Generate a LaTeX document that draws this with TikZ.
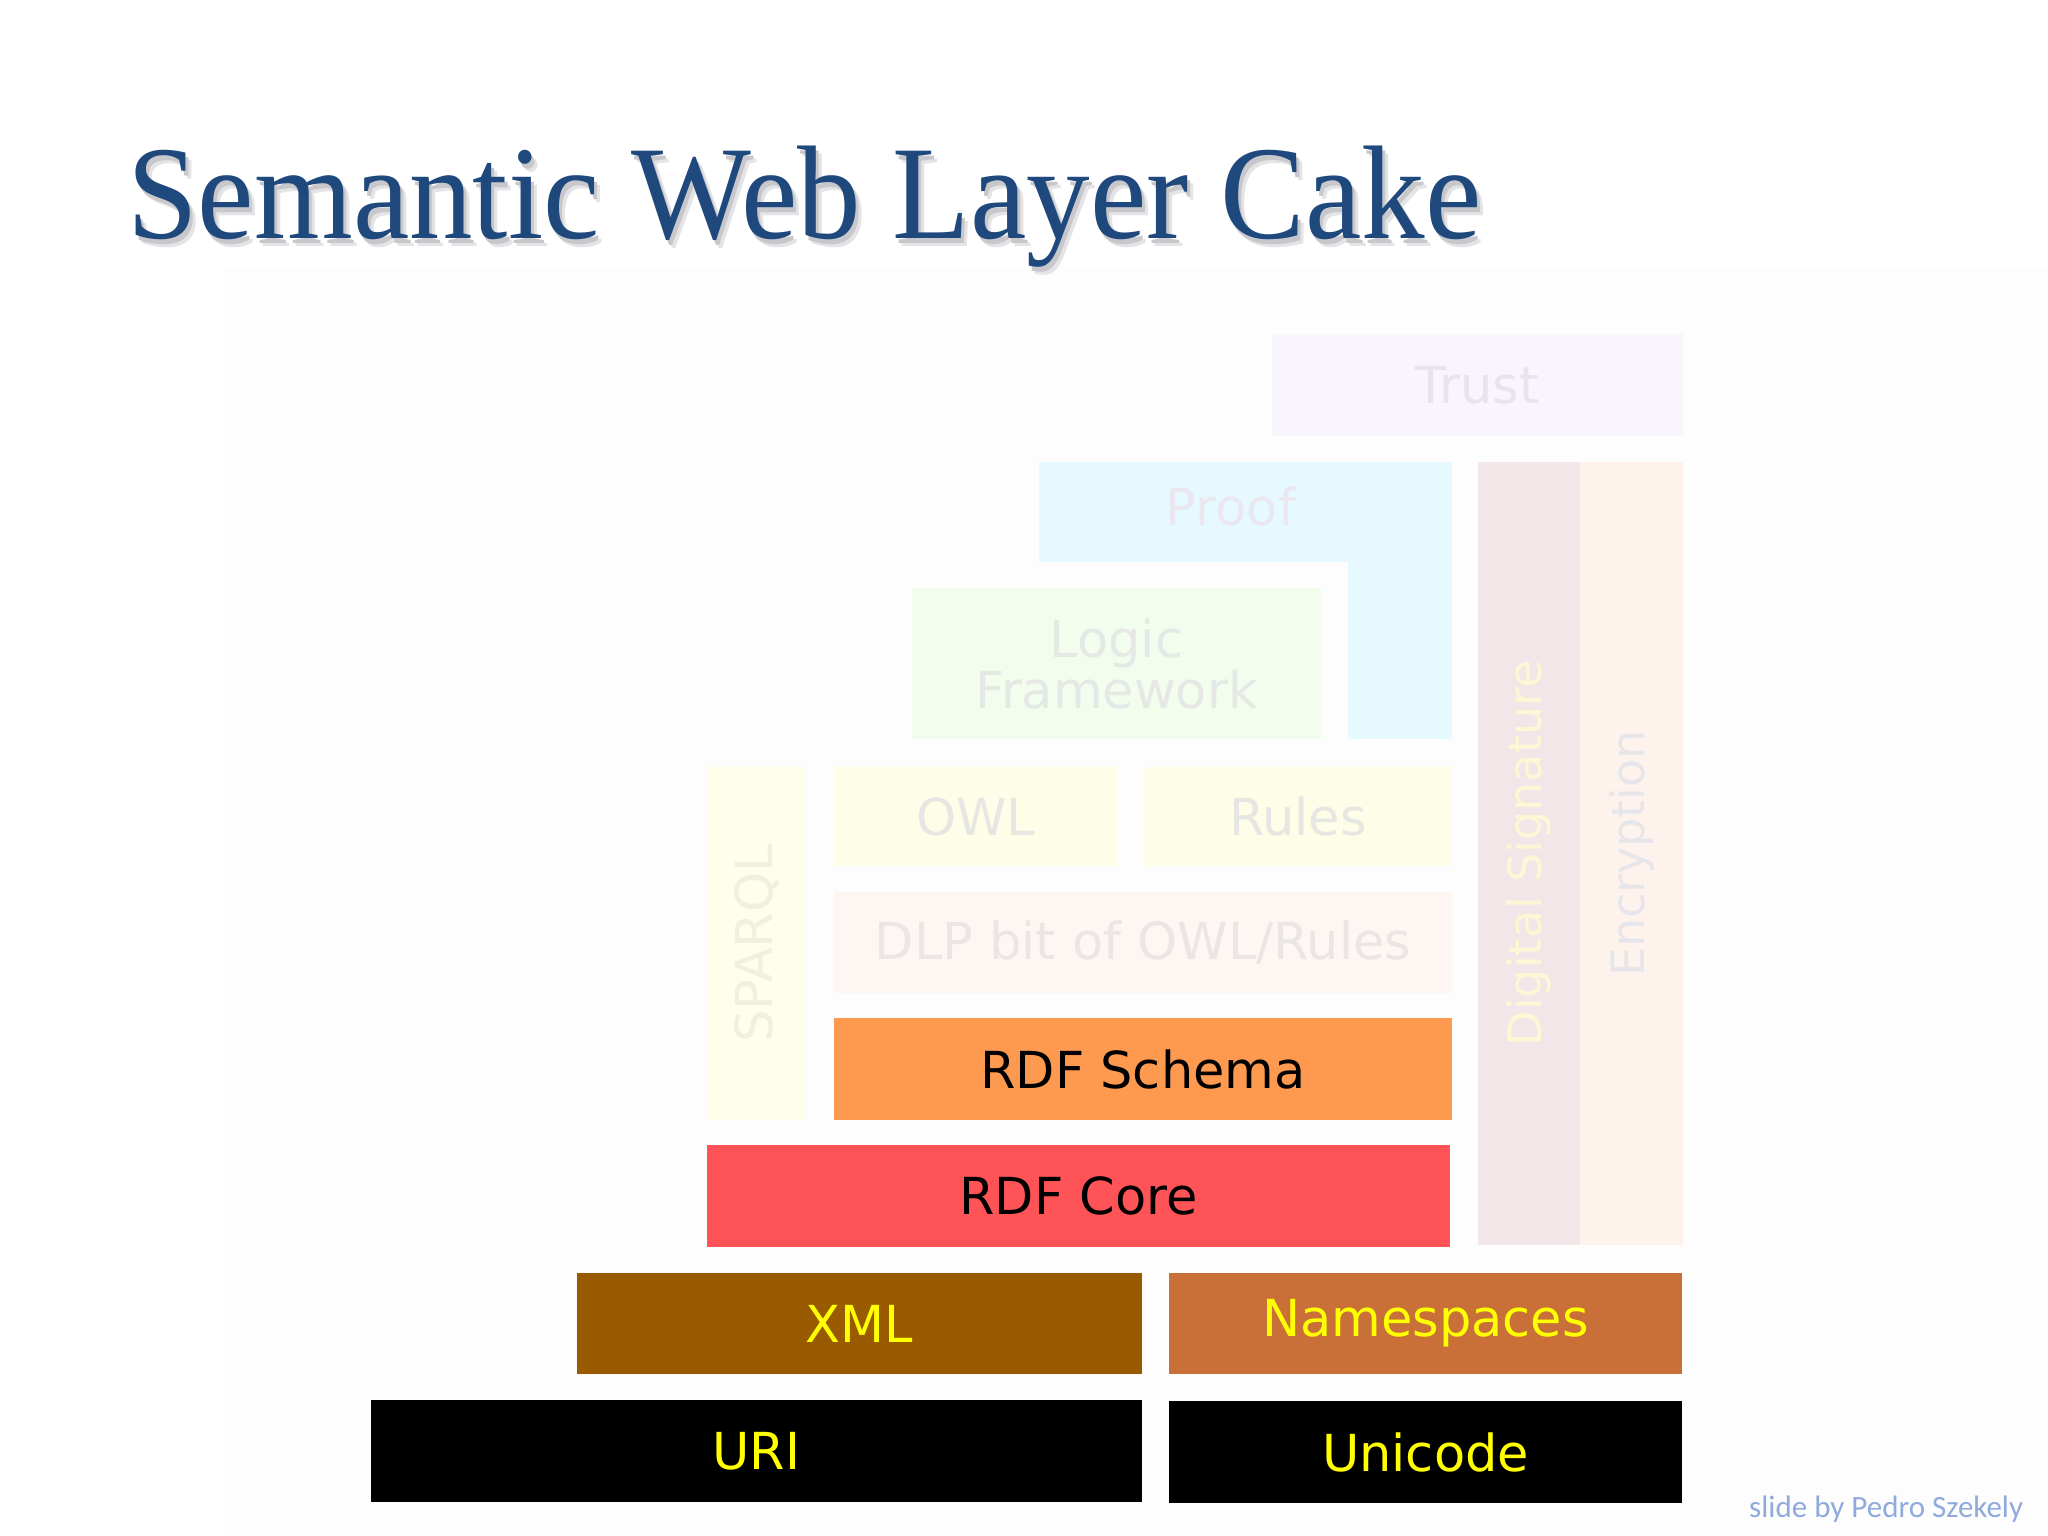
\documentclass[tikz,border=0pt]{standalone}
\usepackage{fontspec}
\newfontfamily\boxfont{DejaVu Sans}
\newfontfamily\titlefont{Liberation Serif}
\newfontfamily\creditfont{Carlito}
\definecolor{titleblue}{RGB}{31,73,125}
\definecolor{creditblue}{RGB}{143,170,220}
\definecolor{panelbg}{RGB}{253,253,254}
\definecolor{shadowA}{RGB}{200,200,204}
\definecolor{shadowB}{RGB}{228,228,230}
\definecolor{trustfill}{RGB}{248,245,253}
\definecolor{trusttext}{RGB}{231,228,236}
\definecolor{prooffill}{RGB}{230,249,254}
\definecolor{prooftext}{RGB}{234,232,238}
\definecolor{logicfill}{RGB}{242,253,238}
\definecolor{logictext}{RGB}{230,232,230}
\definecolor{sparqlfill}{RGB}{254,254,234}
\definecolor{sparqltext}{RGB}{242,240,220}
\definecolor{owlfill}{RGB}{254,254,232}
\definecolor{owltext}{RGB}{230,230,227}
\definecolor{dlpfill}{RGB}{254,246,242}
\definecolor{dlptext}{RGB}{234,230,228}
\definecolor{rdfsfill}{RGB}{254,154,80}
\definecolor{rdfcfill}{RGB}{255,84,87}
\definecolor{sigfill}{RGB}{241,231,232}
\definecolor{sigtext}{RGB}{255,246,214}
\definecolor{encfill}{RGB}{254,243,236}
\definecolor{enctext}{RGB}{230,230,234}
\definecolor{xmlfill}{RGB}{153,90,0}
\definecolor{nsfill}{RGB}{200,112,56}
\definecolor{yel}{RGB}{255,255,0}
\newcommand{\titletext}{\scalebox{1}[1.05]{Semantic Web Layer Cake}}
\tikzset{
  layer/.style={inner sep=0pt, outer sep=0pt, draw=none, font=\boxfont\fontsize{51}{51}\selectfont, align=center},
  sidelayer/.style={layer, font=\boxfont\fontsize{46}{46}\selectfont},
  labeltext/.style={inner sep=0pt, outer sep=0pt, font=\boxfont\fontsize{51}{51}\selectfont},
}
\begin{document}
\begin{tikzpicture}[x=1pt,y=-1pt]
\useasboundingbox (0,0) rectangle (2048,1536);
\fill[white] (0,0) rectangle (2048,1536);
\fill[panelbg] (223,267) rectangle (2048,1536);

% title with soft shadow (single text node)
\node[anchor=base west, inner sep=0pt] (title) at (127,238) {\titlefont\fontsize{127}{127}\selectfont
  \makebox[0pt][l]{\hspace{6pt}\raisebox{-8pt}{\color{shadowB}\titletext}}%
  \makebox[0pt][l]{\hspace{3pt}\raisebox{-5pt}{\color{shadowA}\titletext}}%
  {\color{titleblue}\titletext}};

% upper faded layers
\node[layer, fill=trustfill, text=trusttext, minimum width=411, minimum height=102] (trust) at (1477.5,385) {Trust};
\fill[prooffill] (1039,462) -- (1452,462) -- (1452,739) -- (1348,739) -- (1348,562) -- (1039,562) -- cycle;
\node[labeltext, anchor=base, text=prooftext] (proof) at (1231,525) {Proof};
\node[layer, fill=logicfill, text=logictext, minimum width=409, minimum height=151] (logic) at (1116.5,663.5) {Logic\\Framework};
\node[layer, fill=sparqlfill, text=sparqltext, minimum width=353, minimum height=99, rotate=90] (sparql) at (756.5,943.5) {SPARQL};
\node[layer, fill=owlfill, text=owltext, minimum width=283, minimum height=99] (owl) at (975.5,816.5) {OWL};
\node[layer, fill=owlfill, text=owltext, minimum width=308, minimum height=99] (rules) at (1298,816.5) {Rules};
\node[layer, fill=dlpfill, text=dlptext, minimum width=618, minimum height=101] (dlp) at (1143,942.5) {DLP bit of OWL/Rules};
\node[sidelayer, fill=sigfill, text=sigtext, minimum width=783, minimum height=102, rotate=90] (sig) at (1529,853.5) {Digital Signature};
\node[sidelayer, fill=encfill, text=enctext, minimum width=783, minimum height=103, rotate=90] (enc) at (1631.5,853.5) {Encryption};

% solid layers
\node[layer, fill=rdfsfill, text=black, minimum width=618, minimum height=102] (rdfs) at (1143,1069) {RDF Schema};
\node[layer, fill=rdfcfill, text=black, minimum width=743, minimum height=102] (rdfc) at (1078.5,1196) {RDF Core};
\node[layer, fill=xmlfill, text=yel, minimum width=565, minimum height=101] (xml) at (859.5,1323.5) {XML};
\node[layer, fill=nsfill, text=yel, minimum width=513, minimum height=101] (ns) at (1425.5,1323.5) {Namespaces};
\node[layer, fill=black, text=yel, minimum width=771, minimum height=102] (uri) at (756.5,1451) {URI};
\node[layer, fill=black, text=yel, minimum width=513, minimum height=102] (unicode) at (1425.5,1452) {Unicode};

% credit
\node[anchor=base west, inner sep=0pt, text=creditblue] (credit) at (1749,1517) {\creditfont\fontsize{31}{31}\selectfont slide by Pedro Szekely};
\end{tikzpicture}
\end{document}
